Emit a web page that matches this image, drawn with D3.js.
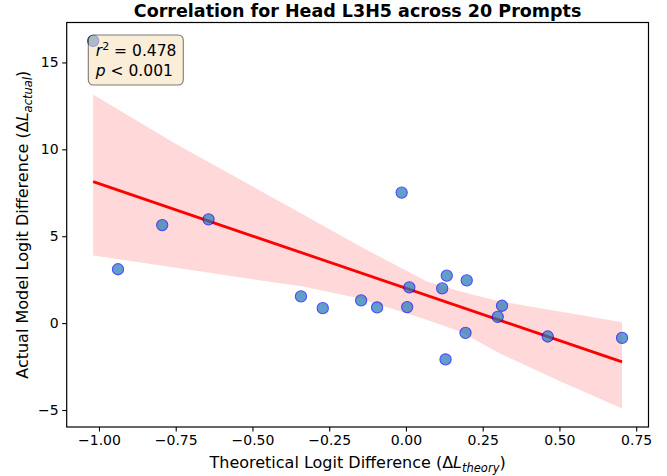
<!DOCTYPE html>
<html>
<head>
<meta charset="utf-8">
<script src="https://d3js.org/d3.v7.min.js"></script>
<style>
  body { margin: 0; background: #fff; }
  text { font-family: "DejaVu Sans", sans-serif; }
</style>
</head>
<body>
<svg width="667" height="476"></svg>
<script>
// data
var theory = [-1.019, -0.938, -0.794, -0.643, -0.342, -0.271, -0.146, -0.094, -0.014, 0.011,
              0.004, 0.133, 0.118, 0.198, 0.129, 0.194, 0.299, 0.313, 0.462, 0.704];
var actual = [16.24, 3.10, 5.64, 5.97, 1.54, 0.86, 1.31, 0.90, 7.51, 2.06,
              0.92, 2.73, 2.00, 2.46, -2.09, -0.56, 0.36, 1.00, -0.77, -0.85];

// bootstrap confidence band edges
var bandX    = [-1.019, -0.749, -0.336, -0.150, 0.067, 0.176, 0.306, 0.502, 0.704];
var bandHigh = [13.16, 10.31, 6.26, 4.42, 2.41, 1.83, 1.25, 0.67, 0.05];
var bandLow  = [3.89, 3.18, 2.10, 1.42, 0.19, -0.48, -1.75, -3.35, -4.92];

var xTicks = [-1.00, -0.75, -0.50, -0.25, 0.00, 0.25, 0.50, 0.75];
var yTicks = [-5, 0, 5, 10, 15];

var statsLines = ['0.478', '0.001'];

var svg = d3.select('svg');
var padding = {t: 22.5, r: 18.5, b: 49, l: 66.7};
var chartWidth = +svg.attr('width') - padding.l - padding.r;
var chartHeight = +svg.attr('height') - padding.t - padding.b;

var points = theory.map(function(t, i) { return {x: t, y: actual[i]}; });
var band = bandX.map(function(b, i) { return {x: b, lo: bandLow[i], hi: bandHigh[i]}; });

// least squares fit
var mx = d3.mean(theory), my = d3.mean(actual);
var sxy = d3.sum(points, function(d) { return (d.x - mx) * (d.y - my); });
var sxx = d3.sum(points, function(d) { return (d.x - mx) * (d.x - mx); });
var slope = sxy / sxx;
var intercept = my - slope * mx;
var xExt = d3.extent(theory);
var fit = xExt.map(function(v) { return {x: v, y: intercept + slope * v}; });

// matplotlib-like 5% margins
var xPad = (xExt[1] - xExt[0]) * 0.05;
var yMin = d3.min([d3.min(actual), d3.min(bandLow)]);
var yMax = d3.max([d3.max(actual), d3.max(bandHigh)]);
var yPad = (yMax - yMin) * 0.05;

var xScale = d3.scaleLinear().domain([xExt[0] - xPad, xExt[1] + xPad]).range([0, chartWidth]);
var yScale = d3.scaleLinear().domain([yMin - yPad, yMax + yPad]).range([chartHeight, 0]);

var chartG = svg.append('g')
    .attr('transform', 'translate(' + [padding.l, padding.t] + ')');

chartG.append('path')
    .datum(band)
    .attr('fill', '#ff0000')
    .attr('fill-opacity', 0.15)
    .attr('d', d3.area()
        .x(function(d) { return xScale(d.x); })
        .y0(function(d) { return yScale(d.lo); })
        .y1(function(d) { return yScale(d.hi); }));

chartG.append('path')
    .datum(fit)
    .attr('fill', 'none')
    .attr('stroke', '#ff0000')
    .attr('stroke-width', 2.8)
    .attr('d', d3.line()
        .x(function(d) { return xScale(d.x); })
        .y(function(d) { return yScale(d.y); }));

chartG.selectAll('.dot')
    .data(points)
    .enter().append('circle')
    .attr('class', 'dot')
    .attr('cx', function(d) { return xScale(d.x); })
    .attr('cy', function(d) { return yScale(d.y); })
    .attr('r', 5.6)
    .attr('fill', '#1f77b4')
    .attr('stroke', '#0000ff')
    .attr('stroke-width', 1.1)
    .attr('opacity', 0.7);

// axes
var minus = function(s) { return s.replace('-', '\u2212'); };
var xAxis = chartG.append('g')
    .attr('transform', 'translate(0,' + chartHeight + ')')
    .call(d3.axisBottom(xScale).tickValues(xTicks).tickSize(4.5).tickPadding(3.5)
        .tickFormat(function(d) { return minus(d3.format('.2f')(d)); }));
var yAxis = chartG.append('g')
    .call(d3.axisLeft(yScale).tickValues(yTicks).tickSize(4.5).tickPadding(3.5)
        .tickFormat(function(d) { return minus(String(d)); }));

[xAxis, yAxis].forEach(function(a) {
    a.select('.domain').remove();
    a.selectAll('line').attr('stroke', '#000').attr('stroke-width', 1.1);
    a.selectAll('text').attr('font-family', 'DejaVu Sans').attr('font-size', 14).attr('fill', '#000');
});

chartG.append('rect')
    .attr('width', chartWidth)
    .attr('height', chartHeight)
    .attr('fill', 'none')
    .attr('stroke', '#000')
    .attr('stroke-width', 1.2);

// stats box
var boxG = chartG.append('g').attr('transform', 'translate(' + [21.6, 12.5] + ')');
boxG.append('rect')
    .attr('width', 95)
    .attr('height', 50)
    .attr('rx', 5)
    .attr('fill', '#f5deb3')
    .attr('fill-opacity', 0.5)
    .attr('stroke', '#000')
    .attr('stroke-opacity', 0.5)
    .attr('stroke-width', 1.1);

var t1 = boxG.append('text').attr('x', 7.5).attr('y', 20.5).attr('font-size', 15.5);
t1.append('tspan').attr('font-style', 'italic').text('r');
t1.append('tspan').attr('font-size', 11).attr('dy', -6).text('2');
t1.append('tspan').attr('dy', 6).text(' = ' + statsLines[0]);

var t2 = boxG.append('text').attr('x', 7.5).attr('y', 40.5).attr('font-size', 15.5);
t2.append('tspan').attr('font-style', 'italic').text('p');
t2.append('tspan').text(' < ' + statsLines[1]);

// title and labels
svg.append('text')
    .attr('x', padding.l + chartWidth / 2)
    .attr('y', 17)
    .attr('text-anchor', 'middle')
    .attr('font-size', 17.5)
    .attr('font-weight', 'bold')
    .text('Correlation for Head L3H5 across 20 Prompts');

var xl = svg.append('text')
    .attr('x', padding.l + chartWidth / 2)
    .attr('y', 468)
    .attr('text-anchor', 'middle')
    .attr('font-size', 16);
xl.append('tspan').text('Theoretical Logit Difference (\u0394');
xl.append('tspan').attr('font-style', 'italic').text('L');
xl.append('tspan').attr('font-style', 'italic').attr('font-size', 11.5).attr('dy', 4).text('theory');
xl.append('tspan').attr('dy', -4).text(')');

var yl = svg.append('text')
    .attr('transform', 'translate(' + [27.5, padding.t + chartHeight / 2] + ') rotate(-90)')
    .attr('text-anchor', 'middle')
    .attr('font-size', 16);
yl.append('tspan').text('Actual Model Logit Difference (\u0394');
yl.append('tspan').attr('font-style', 'italic').text('L');
yl.append('tspan').attr('font-style', 'italic').attr('font-size', 11.5).attr('dy', 4).text('actual');
yl.append('tspan').attr('dy', -4).text(')');
</script>
</body>
</html>
